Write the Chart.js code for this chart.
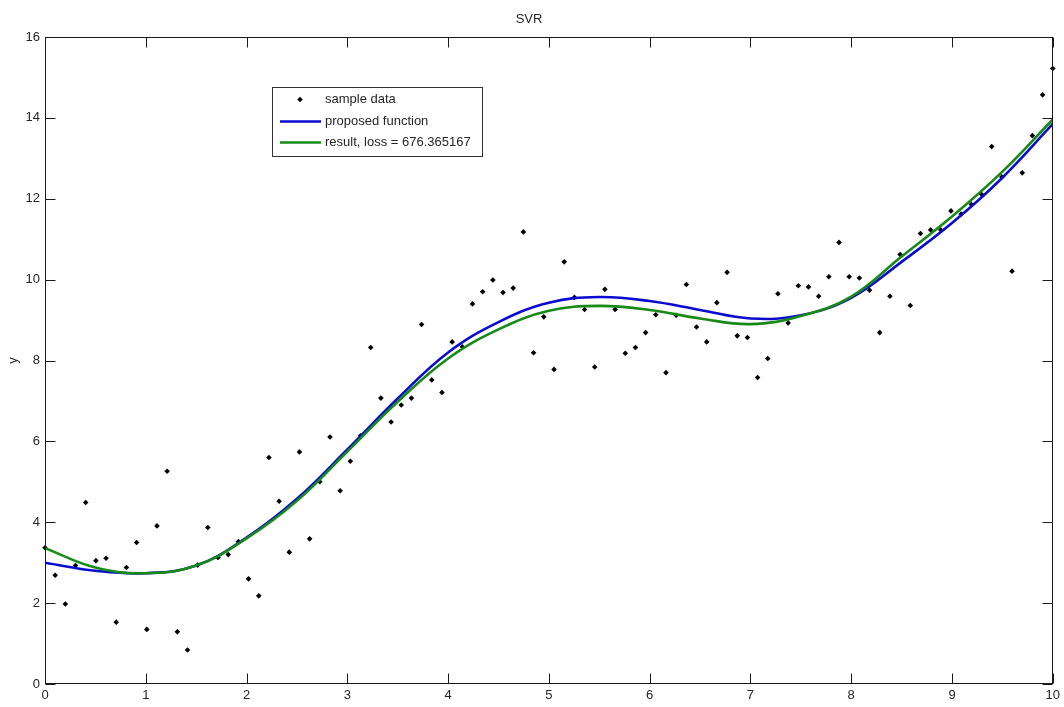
<!DOCTYPE html>
<html>
<head>
<meta charset="utf-8">
<script src="https://cdn.jsdelivr.net/npm/chart.js@4/dist/chart.umd.min.js"></script>
<style>
  html, body { margin: 0; padding: 0; background: #fff; }
  #wrap { width: 1064px; height: 707px; }
</style>
</head>
<body>
<div id="wrap"><canvas id="c" width="1064" height="707"></canvas></div>
<script>
// ---- data ----
const sampleX = [0,0.101,0.202,0.303,0.404,0.505,0.606,0.707,0.808,0.909,
  1.010,1.111,1.212,1.313,1.414,1.515,1.616,1.717,1.818,1.919,
  2.020,2.121,2.222,2.323,2.424,2.525,2.626,2.727,2.828,2.929,
  3.030,3.131,3.232,3.333,3.434,3.535,3.636,3.737,3.838,3.939,
  4.040,4.141,4.242,4.343,4.444,4.545,4.646,4.747,4.848,4.949,
  5.051,5.152,5.253,5.354,5.455,5.556,5.657,5.758,5.859,5.960,
  6.061,6.162,6.263,6.364,6.465,6.566,6.667,6.768,6.869,6.970,
  7.071,7.172,7.273,7.374,7.475,7.576,7.677,7.778,7.879,7.980,
  8.081,8.182,8.283,8.384,8.485,8.586,8.687,8.788,8.889,8.990,
  9.091,9.192,9.293,9.394,9.495,9.596,9.697,9.798,9.899,10.0];
const sampleY = [3.37,2.69,1.98,2.93,4.49,3.05,3.11,1.53,2.88,3.50,
  1.35,3.91,5.26,1.29,0.84,2.94,3.87,3.13,3.20,3.52,
  2.60,2.18,5.60,4.52,3.26,5.74,3.59,5.00,6.11,4.78,
  5.51,6.14,8.32,7.07,6.48,6.90,7.07,8.89,7.52,7.21,
  8.46,8.34,9.40,9.70,9.99,9.68,9.79,11.18,8.19,9.08,
  7.78,10.44,9.56,9.26,7.84,9.76,9.26,8.18,8.32,8.69,
  9.13,7.70,9.12,9.88,8.83,8.46,9.43,10.18,8.61,8.57,
  7.58,8.05,9.65,8.93,9.85,9.82,9.59,10.07,10.92,10.07,
  10.04,9.74,8.69,9.59,10.62,9.36,11.14,11.23,11.23,11.70,
  11.62,11.86,12.11,13.29,12.54,10.21,12.64,13.56,14.57,15.22];

const curveX = [0,0.5,1,1.5,2,2.5,3,3.5,4,4.5,5,5.5,6,6.5,7,7.5,8,8.5,9,9.5,10];
const proposedY = [3.00,2.80,2.74,2.93,3.62,4.58,5.80,7.06,8.20,8.95,9.43,9.57,9.47,9.25,9.04,9.12,9.55,10.44,11.40,12.52,13.85];
const resultY   = [3.36,2.88,2.74,2.93,3.60,4.53,5.75,6.98,8.05,8.77,9.23,9.35,9.25,9.04,8.90,9.10,9.58,10.57,11.56,12.67,13.96];

const xTicks = [0,1,2,3,4,5,6,7,8,9,10];
const yTicks = [0,2,4,6,8,10,12,14,16];

const labels = ['sample data', 'proposed function', 'result, loss = 676.365167'];
const titleText = 'SVR';
const yTitle = 'y';

// ---- styling ----
const FONT = "'Liberation Sans', Arial, sans-serif";
const FSIZE = 13;
const TXT = '#262626';
const BLUE = '#0b0bd0';
const GREEN = '#178a17';

const toXY = (xs, ys) => xs.map((x, i) => ({x: x, y: ys[i]}));

const framePlugin = {
  id: 'frame',
  afterDatasetsDraw(chart) {
    const {ctx, chartArea: a, scales: {x, y}} = chart;
    ctx.save();
    ctx.strokeStyle = '#1a1a1a';
    ctx.lineWidth = 1;
    const L = Math.round(a.left) + 0.5, R = Math.round(a.right) - 0.5;
    const T = Math.round(a.top) + 0.5, B = Math.round(a.bottom) - 0.5;
    ctx.strokeRect(L, T, R - L, B - T);
    const tl = 10;
    ctx.beginPath();
    x.ticks.forEach(t => {
      const px = Math.round(x.getPixelForValue(t.value)) + 0.5;
      ctx.moveTo(px, B); ctx.lineTo(px, B - tl);
      ctx.moveTo(px, T); ctx.lineTo(px, T + tl);
    });
    y.ticks.forEach(t => {
      const py = Math.round(y.getPixelForValue(t.value)) + 0.5;
      ctx.moveTo(L, py); ctx.lineTo(L + tl, py);
      ctx.moveTo(R, py); ctx.lineTo(R - tl, py);
    });
    ctx.stroke();
    ctx.restore();
  }
};

const legendPlugin = {
  id: 'boxLegend',
  afterDraw(chart) {
    const {ctx} = chart;
    const bx = 272.5, by = 87.5, bw = 210, bh = 69;
    ctx.save();
    ctx.fillStyle = '#fff';
    ctx.fillRect(bx, by, bw, bh);
    ctx.strokeStyle = '#333';
    ctx.lineWidth = 1;
    ctx.strokeRect(bx, by, bw, bh);
    const ds = chart.data.datasets;
    const rows = [99.5, 121.5, 142.5];
    ctx.fillStyle = '#000';
    ctx.beginPath();
    const mx = 300, my = rows[0], r = 2.8;
    ctx.moveTo(mx, my - r); ctx.lineTo(mx + r, my); ctx.lineTo(mx, my + r); ctx.lineTo(mx - r, my); ctx.closePath();
    ctx.fill();
    [[1, rows[1]], [2, rows[2]]].forEach(([i, yy]) => {
      const d = ds.find(v => v.label === labels[i]);
      ctx.strokeStyle = d.borderColor;
      ctx.lineWidth = 2.5;
      ctx.beginPath(); ctx.moveTo(280, yy); ctx.lineTo(321, yy); ctx.stroke();
    });
    ctx.fillStyle = TXT;
    ctx.font = FSIZE + 'px ' + FONT;
    ctx.textBaseline = 'middle';
    ctx.textAlign = 'left';
    labels.forEach((lab, i) => ctx.fillText(lab, 325, rows[i]));
    ctx.restore();
  }
};

new Chart(document.getElementById('c'), {
  type: 'scatter',
  data: {
    datasets: [
      { label: labels[2], type: 'line', data: toXY(curveX, resultY), borderColor: GREEN, backgroundColor: GREEN,
        borderWidth: 2.6, pointRadius: 0, tension: 0.4, fill: false, order: 1 },
      { label: labels[1], type: 'line', data: toXY(curveX, proposedY), borderColor: BLUE, backgroundColor: BLUE,
        borderWidth: 2.6, pointRadius: 0, tension: 0.4, fill: false, order: 2 },
      { label: labels[0], data: toXY(sampleX, sampleY), pointStyle: 'rectRot', pointRadius: 2.8,
        backgroundColor: '#000', borderColor: '#000', borderWidth: 0, order: 3, clip: 4 }
    ]
  },
  options: {
    responsive: false,
    animation: false,
    devicePixelRatio: 1,
    layout: { padding: { left: 0, right: 6, top: 0, bottom: 0 } },
    plugins: {
      legend: { display: false },
      tooltip: { enabled: false },
      title: { display: true, text: titleText, color: TXT,
        font: { family: FONT, size: FSIZE, weight: 'normal', lineHeight: 1.2 },
        padding: { top: 12, bottom: 9.4 } }
    },
    scales: {
      x: {
        type: 'linear', min: 0, max: 10,
        afterBuildTicks: s => { s.ticks = xTicks.map(v => ({value: v})); },
        afterFit: s => { s.height = 23; },
        grid: { display: false, drawTicks: false },
        border: { display: false },
        ticks: { color: TXT, padding: 4, font: { family: FONT, size: FSIZE }, maxRotation: 0, autoSkip: false }
      },
      y: {
        type: 'linear', min: 0, max: 16,
        afterBuildTicks: s => { s.ticks = yTicks.map(v => ({value: v})); },
        afterFit: s => { s.width = 45; },
        grid: { display: false, drawTicks: false },
        border: { display: false },
        title: { display: true, text: yTitle, color: TXT, font: { family: FONT, size: FSIZE }, padding: { top: 6, bottom: 0 } },
        ticks: { color: TXT, padding: 5, font: { family: FONT, size: FSIZE }, autoSkip: false }
      }
    }
  },
  plugins: [framePlugin, legendPlugin]
});
</script>
</body>
</html>
